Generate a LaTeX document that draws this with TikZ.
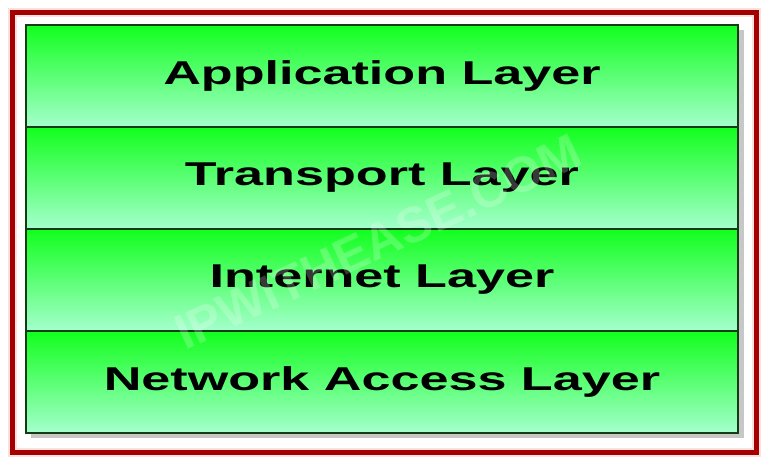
\documentclass[tikz,border=0pt]{standalone}
\usepackage{fontspec}
\setmainfont{Liberation Sans}
\usetikzlibrary{shapes,backgrounds,calc}

\definecolor{layertop}{RGB}{18,255,30}
\definecolor{layerbot}{RGB}{165,255,205}
\definecolor{framered}{RGB}{165,0,0}
\definecolor{edgegreen}{RGB}{20,60,20}

\tikzset{
  layerbox/.style={draw=edgegreen,line width=1.4pt,top color=layertop,bottom color=layerbot,
    minimum width=712pt,minimum height=102pt,inner sep=0pt,
    font=\bfseries\fontsize{33}{33}\selectfont},
}
\newcommand{\wide}[1]{\scalebox{1.58}[1]{#1}}

\begin{document}
\begin{tikzpicture}[x=1pt,y=-1pt]
        \useasboundingbox (0,0) rectangle (768,462);
        \fill[white] (0,0) rectangle (768,462);
        % frame
        \draw[red!12,line width=9pt] (12,13) rectangle (756,452);
        \draw[framered,line width=5pt] (12,13) rectangle (756,452);
        % shadow
        \fill[black!22] (31,30) rectangle (744,438);
        % layers
        \node[layerbox] (app) at (382,76) {\wide{Application Layer}};
        \node[layerbox] (trans) at (382,178) {\wide{Transport Layer}};
        \node[layerbox] (inet) at (382,280) {\wide{Internet Layer}};
        \node[layerbox] (netacc) at (382,382) {\wide{Network Access Layer}};
        % watermark
        \node[rotate=25,text=white,opacity=0.22,font=\bfseries\fontsize{50}{50}\selectfont] (mark) at (378,242) {IPWITHEASE.COM};
        \end{tikzpicture}
\end{document}
